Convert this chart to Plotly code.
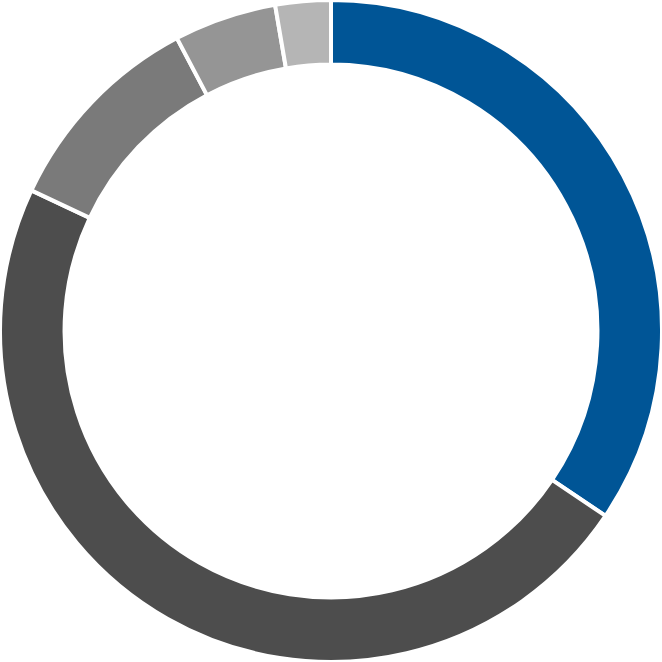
from plotly import graph_objects as go

labels = ['A', 'B', 'C', 'D', 'E']
values = [34.4, 47.5, 10.3, 5.0, 2.7]
colors = ['#005596', '#4D4D4D', '#7A7A7A', '#959595', '#B5B5B5']

trace = go.Pie(
	labels=labels,
	values=values,
	hole=0.805,
	sort=False,
	direction='clockwise',
	rotation=0,
	textinfo='none',
	hoverinfo='label+percent',
	marker=dict(colors=colors, line=dict(color='white', width=4))
)

fig = go.Figure(data=[trace])

fig.update_layout(
	width=662,
	height=662,
	margin=dict(l=0, r=0, t=0, b=0),
	showlegend=False,
	paper_bgcolor='white',
	plot_bgcolor='white'
)

# page body has a default 8px margin, drop it so the ring sits at 0,0
fig.write_html(
	"out.html",
	config={'displayModeBar': False},
	post_script="document.body.style.margin='0';document.body.style.overflow='hidden';"
)
